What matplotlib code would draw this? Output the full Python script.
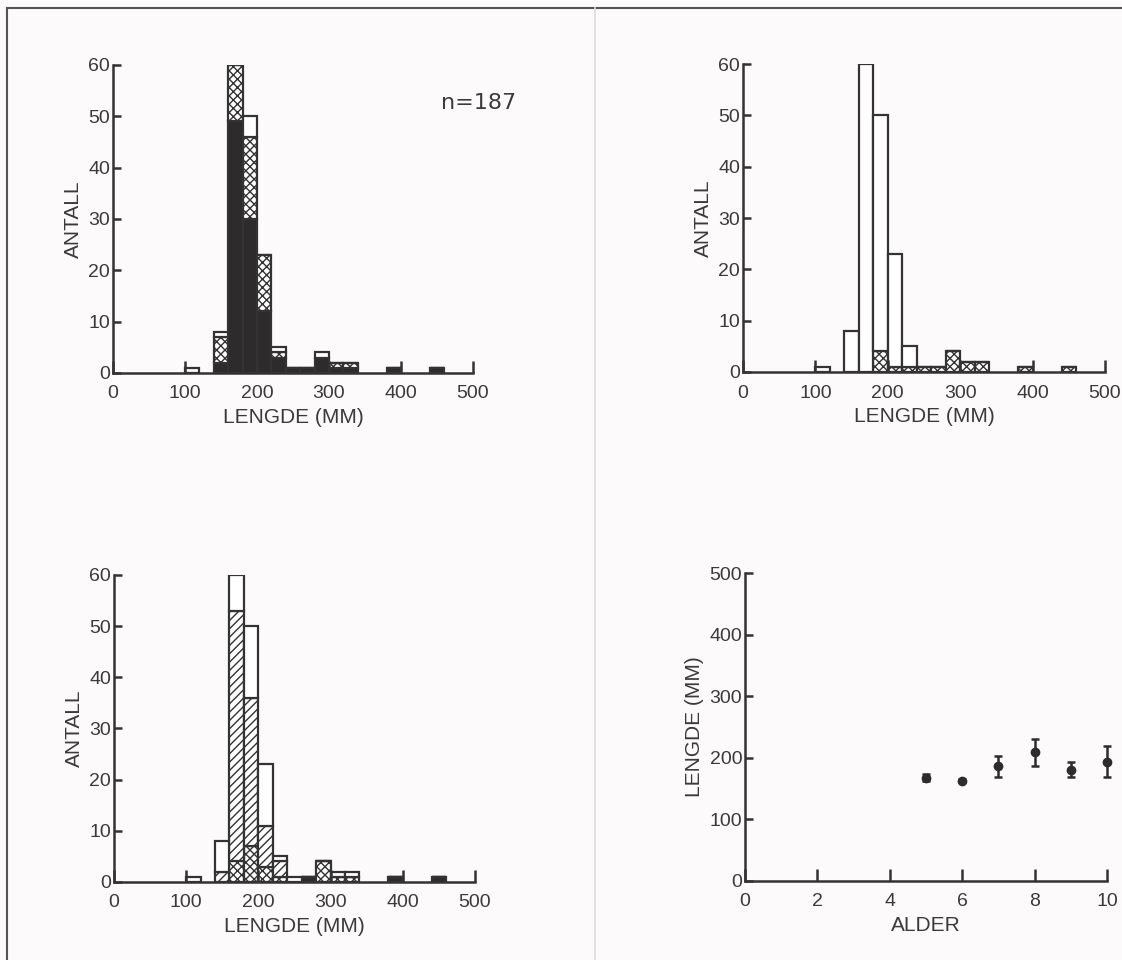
import matplotlib.pyplot as plt
import numpy as np
from matplotlib.lines import Line2D

plt.rcParams['font.family'] = ['Liberation Sans', 'DejaVu Sans']
plt.rcParams['hatch.linewidth'] = 1.0
plt.rcParams['hatch.color'] = '#333333'

# length classes (left edge, mm), class width 20 mm
bins = [100, 140, 160, 180, 200, 220, 240, 260, 280, 300, 320, 380, 440]

# panel 1 (top left)
p1_black = [0, 2, 49, 30, 12, 3, 1, 1, 3, 1, 1, 1, 1]
p1_cross = [0, 5, 11, 16, 11, 1, 0, 0, 0, 1, 1, 0, 0]
p1_open = [1, 1, 0, 4, 0, 1, 0, 0, 1, 0, 0, 0, 0]

# panel 2 (top right)
p2_cross = [0, 0, 0, 4, 1, 1, 1, 1, 4, 2, 2, 1, 1]
p2_open = [1, 8, 60, 46, 22, 4, 0, 0, 0, 0, 0, 0, 0]

# panel 3 (bottom left)
p3_black = [0, 0, 0, 0, 0, 0, 0, 1, 0, 0, 0, 1, 1]
p3_cross = [0, 0, 4, 7, 3, 1, 0, 0, 4, 1, 1, 0, 0]
p3_hatch = [0, 2, 49, 29, 8, 3, 0, 0, 0, 0, 0, 0, 0]
p3_open = [1, 6, 7, 14, 12, 1, 1, 0, 0, 1, 1, 0, 0]

# panel 4 (bottom right): mean length per age
alder = [5, 6, 7, 8, 9, 10]
lengde = [168, 163, 186, 209, 181, 194]
lengde_err = [6, 3, 17, 22, 12, 25]

EDGE = '#333333'
BLACK = '#2e2b2d'
BG = '#fdfafc'
TXT = '#3a3a3a'

fig = plt.figure(figsize=(11.22, 9.6), dpi=100, facecolor=BG)


def style(ax, xmax, xticks, ymax, yticks):
    ax.set_facecolor(BG)
    ax.set_xlim(0, xmax)
    ax.set_ylim(0, ymax)
    for s in ['top', 'right']:
        ax.spines[s].set_visible(False)
    for s in ['left', 'bottom']:
        ax.spines[s].set_linewidth(1.8)
        ax.spines[s].set_color(EDGE)
    ax.set_xticks(xticks)
    ax.set_yticks(yticks)
    ax.tick_params(axis='x', direction='in', length=9, width=1.8, color=EDGE,
                   labelsize=14, pad=9, labelcolor=TXT)
    ax.tick_params(axis='y', direction='in', length=6, width=1.8, color=EDGE,
                   labelsize=14, pad=2, labelcolor=TXT)


def stack(ax, layers):
    bottom = np.zeros(len(bins))
    for vals, kw in layers:
        vals = np.array(vals, dtype=float)
        ax.bar(bins, vals, width=20, bottom=bottom, align='edge',
               edgecolor=EDGE, linewidth=1.6, **kw)
        bottom += vals


open_kw = dict(color='white')
black_kw = dict(color=BLACK)
cross_kw = dict(color='white', hatch='xxxx')
hatch_kw = dict(color='white', hatch='////')

# top left
ax1 = fig.add_axes([0.1007, 0.6115, 0.3209, 0.3208])
stack(ax1, [(p1_black, black_kw), (p1_cross, cross_kw), (p1_open, open_kw)])
style(ax1, 500, [0, 100, 200, 300, 400, 500], 60, [0, 10, 20, 30, 40, 50, 60])
ax1.set_xlabel('LENGDE (MM)', fontsize=15, labelpad=4, color=TXT)
ax1.set_ylabel('ANTALL', fontsize=15, labelpad=4, color=TXT)
ax1.text(508, 52.5, 'n=187', fontsize=16, color=TXT, ha='center', va='center',
         family=['DejaVu Sans'])

# top right
ax2 = fig.add_axes([0.6622, 0.6125, 0.3226, 0.3208])
stack(ax2, [(p2_cross, cross_kw), (p2_open, open_kw)])
style(ax2, 500, [0, 100, 200, 300, 400, 500], 60, [0, 10, 20, 30, 40, 50, 60])
ax2.set_xlabel('LENGDE (MM)', fontsize=15, labelpad=4, color=TXT)
ax2.set_ylabel('ANTALL', fontsize=15, labelpad=4, color=TXT)

# bottom left
ax3 = fig.add_axes([0.1016, 0.0813, 0.3217, 0.3198])
stack(ax3, [(p3_black, black_kw), (p3_cross, cross_kw), (p3_hatch, hatch_kw),
            (p3_open, open_kw)])
style(ax3, 500, [0, 100, 200, 300, 400, 500], 60, [0, 10, 20, 30, 40, 50, 60])
ax3.set_xlabel('LENGDE (MM)', fontsize=15, labelpad=4, color=TXT)
ax3.set_ylabel('ANTALL', fontsize=15, labelpad=4, color=TXT)

# bottom right
ax4 = fig.add_axes([0.664, 0.0823, 0.3226, 0.3208])
ax4.errorbar(alder, lengde, yerr=lengde_err, fmt='o', color=BLACK, ms=6,
             elinewidth=1.8, capsize=3, capthick=1.8, clip_on=False)
style(ax4, 10, [0, 2, 4, 6, 8, 10], 500, [0, 100, 200, 300, 400, 500])
ax4.set_xlabel('ALDER', fontsize=15, labelpad=4, color=TXT)
ax4.set_ylabel('LENGDE (MM)', fontsize=15, labelpad=4, color=TXT)

# page frame of the scanned figure
fig.add_artist(Line2D([7 / 1122, 1], [1 - 8 / 960, 1 - 8 / 960], color='#555555', lw=1.5))
fig.add_artist(Line2D([7 / 1122, 7 / 1122], [0, 1 - 8 / 960], color='#555555', lw=1.5))
fig.add_artist(Line2D([595 / 1122, 595 / 1122], [0, 1 - 8 / 960], color='#dddddd', lw=1.2))

fig.savefig('out.png', dpi=100, facecolor=BG)
